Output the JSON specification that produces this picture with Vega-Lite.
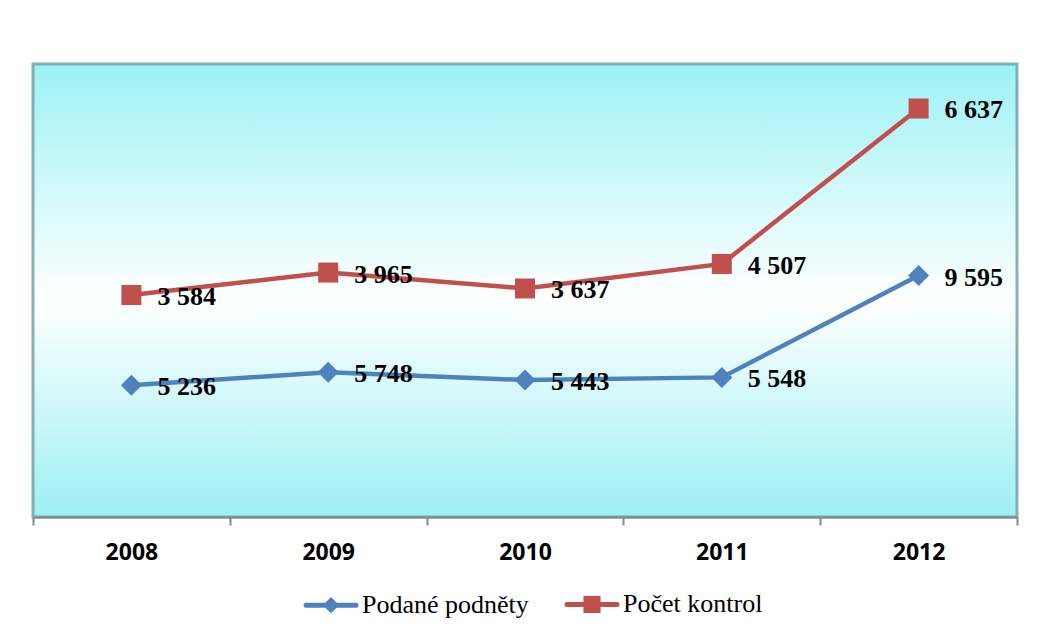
{
  "$schema": "https://vega.github.io/schema/vega-lite/v6.json",
  "width": 984,
  "height": 453,
  "padding": {"left": 32, "top": 64, "right": 27, "bottom": 5},
  "background": "white",
  "data": {
    "values": [
      {"year": "2008", "series": "Podané podněty", "value": 5236},
      {"year": "2009", "series": "Podané podněty", "value": 5748},
      {"year": "2010", "series": "Podané podněty", "value": 5443},
      {"year": "2011", "series": "Podané podněty", "value": 5548},
      {"year": "2012", "series": "Podané podněty", "value": 9595},
      {"year": "2008", "series": "Počet kontrol", "value": 3584},
      {"year": "2009", "series": "Počet kontrol", "value": 3965},
      {"year": "2010", "series": "Počet kontrol", "value": 3637},
      {"year": "2011", "series": "Počet kontrol", "value": 4507},
      {"year": "2012", "series": "Počet kontrol", "value": 6637}
    ]
  },
  "transform": [
    {"stack": "value", "groupby": ["year"], "sort": [{"field": "series", "order": "ascending"}], "as": ["y0", "y1"]}
  ],
  "encoding": {
    "x": {
      "field": "year",
      "type": "ordinal",
      "scale": {"type": "band", "paddingInner": 0, "paddingOuter": 0},
      "axis": {
        "title": null,
        "labelAngle": 0,
        "tickBand": "extent",
        "grid": false,
        "domainColor": "#868686",
        "domainWidth": 2,
        "tickColor": "#868686",
        "tickWidth": 2,
        "tickSize": 8,
        "labelFont": "Open Sans",
        "labelFontWeight": "bold",
        "labelFontSize": 23,
        "labelColor": "#000000",
        "labelPadding": 16
      }
    },
    "y": {
      "field": "y1",
      "type": "quantitative",
      "scale": {"domain": [0, 18000], "nice": false},
      "axis": null
    },
    "color": {
      "field": "series",
      "type": "nominal",
      "scale": {"domain": ["Podané podněty", "Počet kontrol"], "range": ["#4F81BD", "#C0504D"]},
      "legend": {
        "orient": "none",
        "legendX": 268,
        "legendY": 510,
        "direction": "horizontal",
        "title": null,
        "padding": 0,
        "columnPadding": 27,
        "labelFont": "Liberation Serif",
        "labelFontSize": 26,
        "labelColor": "#000000",
        "labelOffset": 1,
        "labelLimit": 400,
        "symbolSize": 3025,
        "symbolStrokeWidth": 5,
        "encode": {
          "symbols": {
            "update": {
              "shape": {"signal": "datum.value === 'Podané podněty' ? 'M-0.91,0H0.91M0,-0.17L0.17,0L0,0.17L-0.17,0Z' : 'M-0.91,0H0.91M-0.22,-0.22H0.22V0.22H-0.22Z'"},
              "size": {"value": 3025},
              "fill": {"scale": "color", "field": "value"},
              "stroke": {"scale": "color", "field": "value"},
              "strokeWidth": {"value": 5},
              "strokeCap": {"value": "round"},
              "opacity": {"value": 1},
              "fillOpacity": {"value": 1},
              "strokeOpacity": {"value": 1}
            }
          }
        }
      }
    }
  },
  "layer": [
    {
      "mark": {"type": "line", "strokeWidth": 4.5}
    },
    {
      "transform": [{"filter": "datum.series === 'Podané podněty'"}],
      "mark": {"type": "point", "shape": "diamond", "size": 441, "filled": true, "opacity": 1}
    },
    {
      "transform": [{"filter": "datum.series === 'Počet kontrol'"}],
      "mark": {"type": "point", "shape": "square", "size": 400, "filled": true, "opacity": 1}
    },
    {
      "mark": {
        "type": "text",
        "align": "left",
        "baseline": "middle",
        "dx": 26,
        "dy": 2,
        "font": "Liberation Serif",
        "fontWeight": "bold",
        "fontSize": 26
      },
      "encoding": {
        "text": {"field": "value", "type": "quantitative", "format": ",d"},
        "color": {"value": "#000000"}
      }
    }
  ],
  "config": {
    "locale": {
      "number": {"decimal": ",", "thousands": " ", "grouping": [3], "currency": ["", " Kč"]}
    },
    "view": {
      "fill": {
        "gradient": "linear",
        "x1": 0, "y1": 0, "x2": 0, "y2": 1,
        "stops": [
          {"offset": 0, "color": "#9cf2f5"},
          {"offset": 0.52, "color": "#ffffff"},
          {"offset": 1, "color": "#9cf0f4"}
        ]
      },
      "stroke": "#6b9da0",
      "strokeWidth": 3,
      "strokeOpacity": 0.8
    }
  }
}
